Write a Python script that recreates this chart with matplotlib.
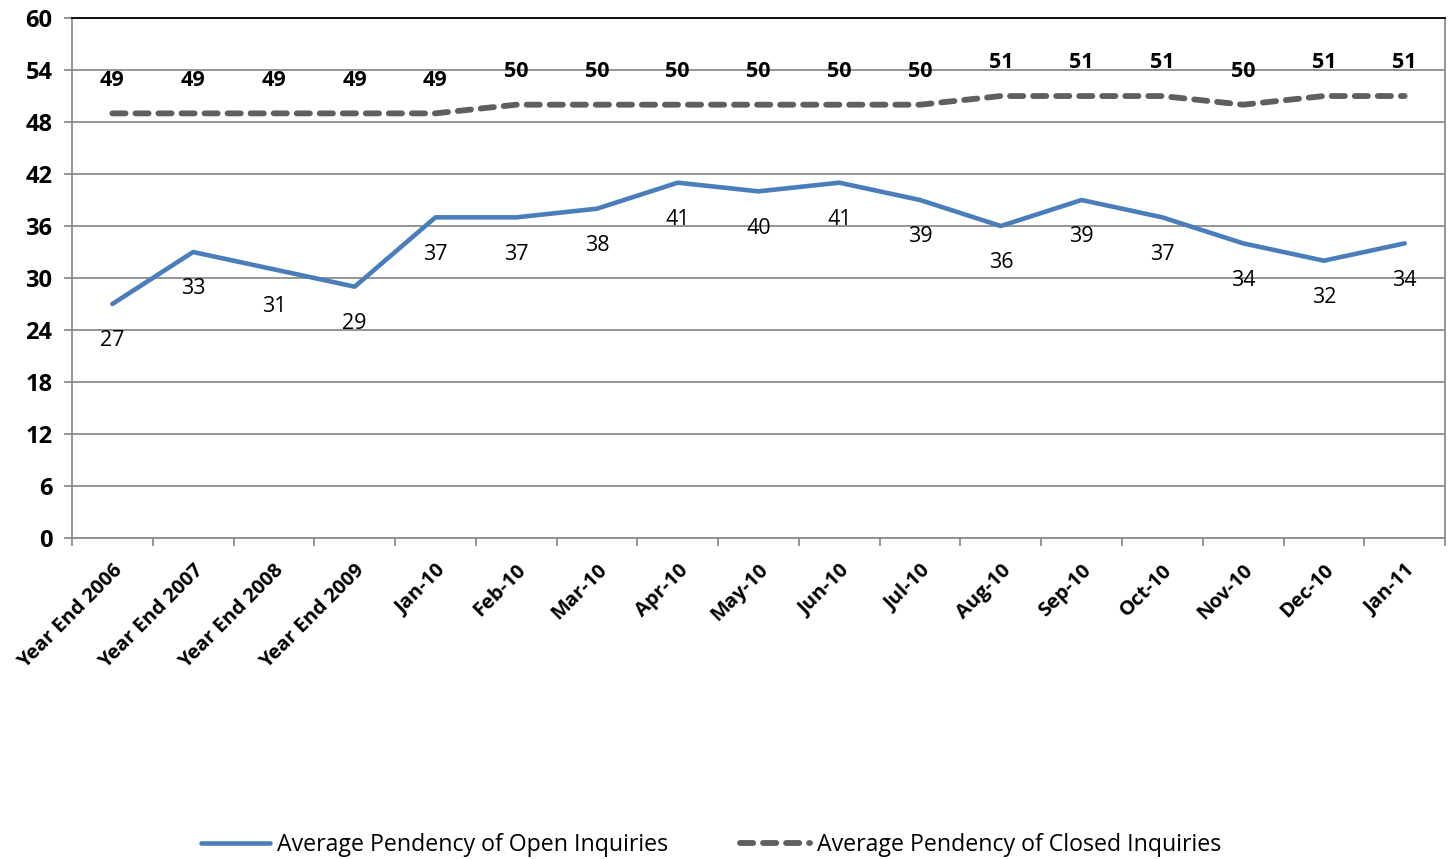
import matplotlib
matplotlib.use("Agg")
import matplotlib.pyplot as plt
import numpy as np

plt.rcParams['font.family'] = ['Open Sans', 'DejaVu Sans']

## Data
categories = ["Year End 2006", "Year End 2007", "Year End 2008", "Year End 2009",
              "Jan-10", "Feb-10", "Mar-10", "Apr-10", "May-10", "Jun-10", "Jul-10",
              "Aug-10", "Sep-10", "Oct-10", "Nov-10", "Dec-10", "Jan-11"]
open_inq = [27, 33, 31, 29, 37, 37, 38, 41, 40, 41, 39, 36, 39, 37, 34, 32, 34]
closed_inq = [49, 49, 49, 49, 49, 50, 50, 50, 50, 50, 50, 51, 51, 51, 50, 51, 51]
yticks = [0, 6, 12, 18, 24, 30, 36, 42, 48, 54, 60]

blue = "#4a7ebb"
gray = "#5f5f5f"

fig = plt.figure(figsize=(14.51, 8.59), dpi=100)
ax = fig.add_axes([0.0496, 0.3737, 0.9463, 0.6053])

x = np.arange(len(categories))
ax.plot(x, open_inq, color=blue, lw=3.3, solid_capstyle='round',
        label="Average Pendency of Open Inquiries")
ax.plot(x, closed_inq, color=gray, lw=4.2, dashes=(2.26, 1.69), dash_capstyle='round',
        label="Average Pendency of Closed Inquiries")

##Data labels
for xi, v in zip(x, open_inq):
    ax.annotate(str(v), (xi, v), xytext=(0, -26.5), textcoords='offset points',
                ha='center', va='center', fontsize=15.5, color='black')
for xi, v in zip(x, closed_inq):
    ax.annotate(str(v), (xi, v), xytext=(0, 24), textcoords='offset points',
                ha='center', va='center', fontsize=15.5, fontweight='bold', color='black')

ax.set_xlim(-0.5, len(categories) - 0.5)
ax.set_ylim(0, 60)
ax.set_yticks(yticks)
ax.set_yticklabels([str(t) for t in yticks], fontsize=17, fontweight='bold')
ax.yaxis.grid(True, color='#8c8c8c', lw=1.3)
ax.set_axisbelow(True)

##Category ticks at boundaries, labels at centres
ax.set_xticks(np.arange(len(categories) + 1) - 0.5)
ax.set_xticklabels([])
ax.set_xticks(x, minor=True)
ax.set_xticklabels(categories, minor=True, rotation=45, ha='right',
                   rotation_mode='anchor', fontsize=14.5, fontweight='bold')
ax.tick_params(axis='x', which='minor', length=0, pad=16)
ax.tick_params(axis='x', which='major', length=6, width=1.3, color='#8c8c8c')
ax.tick_params(axis='y', length=6, width=1.3, color='#8c8c8c', pad=8)

for s in ['left', 'bottom', 'right']:
    ax.spines[s].set_color('#8c8c8c')
    ax.spines[s].set_linewidth(1.3)
ax.spines['top'].set_color('black')
ax.spines['top'].set_linewidth(1.3)

fig.legend(loc='center', bbox_to_anchor=(0.49, 0.0163), ncol=2, frameon=False,
           fontsize=16.7, handlelength=3.0, handletextpad=0.3, columnspacing=3.1)

fig.savefig("out.png", dpi=100)
